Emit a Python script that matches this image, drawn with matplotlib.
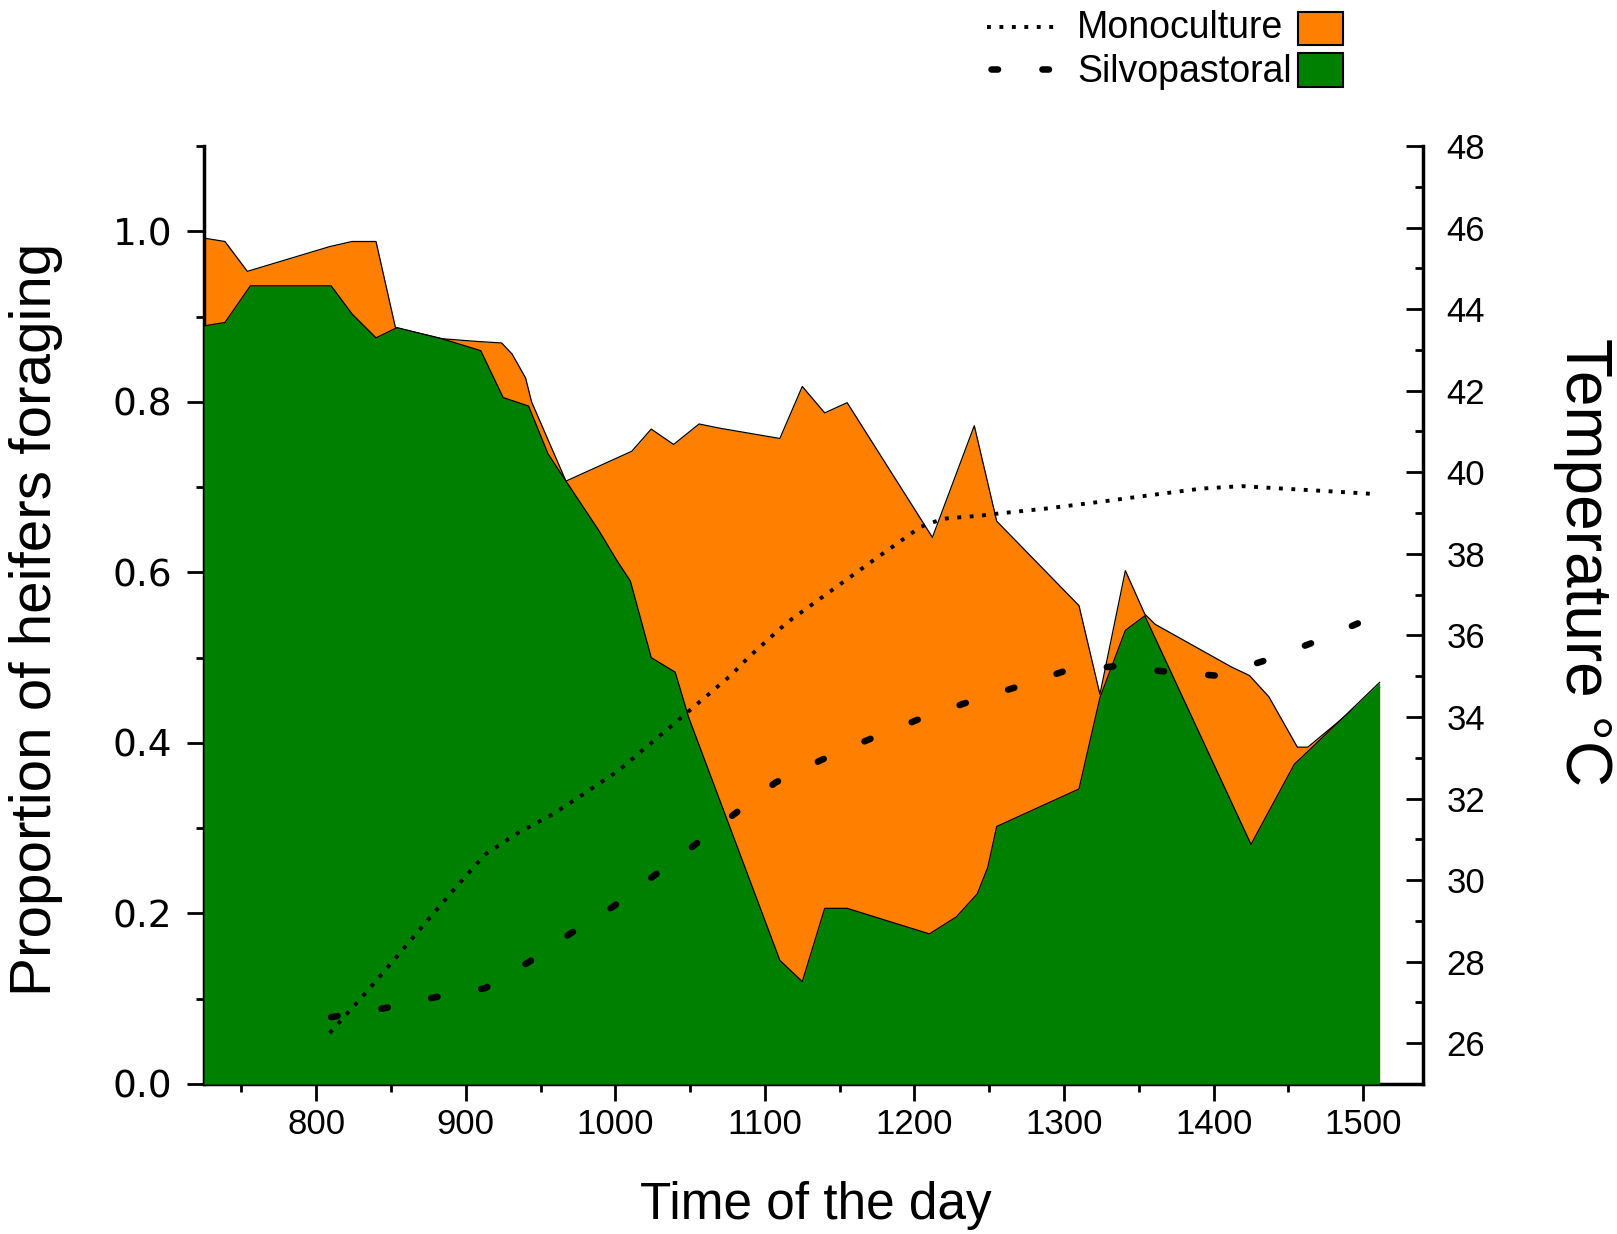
import matplotlib
matplotlib.use("Agg")
import matplotlib.pyplot as plt
from matplotlib.ticker import MultipleLocator
from matplotlib.lines import Line2D
from matplotlib.patches import Rectangle

plt.rcParams['font.family'] = ['Liberation Sans', 'DejaVu Sans']

# proportion of heifers foraging, monoculture (orange area)
mono_time = [725, 739, 754, 809, 824, 840, 853, 884, 906, 924, 931, 940, 944,
             967, 1011, 1024, 1039, 1056, 1070, 1110, 1125, 1140, 1155, 1212,
             1240, 1255, 1310, 1324, 1341, 1354, 1361, 1412, 1424, 1437, 1456,
             1463, 1511]
mono_prop = [0.992, 0.988, 0.953, 0.982, 0.988, 0.988, 0.887, 0.874, 0.871,
             0.869, 0.856, 0.828, 0.800, 0.707, 0.742, 0.768, 0.750, 0.774,
             0.769, 0.757, 0.818, 0.787, 0.799, 0.641, 0.772, 0.660, 0.561,
             0.457, 0.602, 0.551, 0.539, 0.489, 0.479, 0.454, 0.395, 0.395,
             0.465]

# proportion of heifers foraging, silvopastoral (green area)
silvo_time = [725, 739, 756, 810, 824, 840, 854, 884, 910, 925, 942, 955, 967,
              989, 1001, 1010, 1024, 1040, 1049, 1110, 1125, 1140, 1155, 1210,
              1228, 1242, 1249, 1255, 1310, 1324, 1341, 1354, 1425, 1454, 1466,
              1511]
silvo_prop = [0.889, 0.893, 0.936, 0.936, 0.903, 0.875, 0.887, 0.874, 0.860,
              0.805, 0.795, 0.739, 0.707, 0.649, 0.614, 0.590, 0.500, 0.483,
              0.430, 0.145, 0.120, 0.206, 0.206, 0.176, 0.196, 0.223, 0.254,
              0.302, 0.346, 0.453, 0.532, 0.549, 0.281, 0.375, 0.395, 0.471]

# temperature, monoculture
mono_temp_time = [809, 833, 855, 872, 895, 913, 935, 958, 980, 1002, 1043,
                  1056, 1077, 1089, 1110, 1118, 1146, 1174, 1196, 1204, 1219,
                  1245, 1254, 1288, 1323, 1356, 1392, 1419, 1446, 1479, 1506]
mono_temp = [26.25, 27.23, 28.17, 28.91, 29.89, 30.63, 31.16, 31.61, 32.14,
             32.68, 33.95, 34.36, 35.01, 35.46, 36.16, 36.40, 37.14, 37.88,
             38.45, 38.66, 38.86, 38.94, 38.98, 39.11, 39.27, 39.43, 39.60,
             39.66, 39.60, 39.53, 39.47]

# temperature, silvopastoral
silvo_temp_time = [810, 846, 880, 913, 943, 970, 999, 1026, 1053, 1080, 1107,
                   1138, 1169, 1202, 1234, 1267, 1300, 1333, 1369, 1403, 1434,
                   1467, 1500]
silvo_temp = [26.64, 26.86, 27.13, 27.35, 28.01, 28.69, 29.36, 30.11, 30.86,
              31.63, 32.39, 32.95, 33.44, 33.93, 34.34, 34.72, 35.12, 35.24,
              35.11, 35.01, 35.38, 35.83, 36.35]

ORANGE = '#ff8000'
GREEN = '#008000'
W, H = 1617, 1234

MONO_STYLE = dict(color='black', lw=2.8, linestyle=(0, (1, 2.2)))
SILVO_STYLE = dict(color='black', lw=4.7, linestyle=(0, (1.0, 6.8)),
                   dash_capstyle='round')

fig = plt.figure(figsize=(W / 100, H / 100), dpi=100)
ax = fig.add_axes([204 / W, 1 - 1084 / H, (1423 - 204) / W, (1084 - 146) / H])

ax.fill_between(mono_time, mono_prop, 0, color=ORANGE, lw=0, zorder=1)
ax.plot(mono_time, mono_prop, color='black', lw=0.9, zorder=2)
ax.fill_between(silvo_time, silvo_prop, 0, color=GREEN, lw=0, zorder=3)
ax.plot(silvo_time, silvo_prop, color='black', lw=0.9, zorder=4)

ax.set_xlim(725, 1540)
ax.set_ylim(0, 1.1)
ax.set_xticks(range(800, 1501, 100))
ax.xaxis.set_minor_locator(MultipleLocator(50))
ax.set_yticks([0, 0.2, 0.4, 0.6, 0.8, 1.0])
ax.set_yticklabels(['0.0', '0.2', '0.4', '0.6', '0.8', '1.0'],
                   fontfamily='DejaVu Sans', fontsize=27)
ax.yaxis.set_minor_locator(MultipleLocator(0.1))
ax.tick_params(axis='x', which='major', direction='out', length=12, width=2,
               labelsize=25, pad=5)
ax.tick_params(axis='x', which='minor', direction='out', length=6, width=2)
ax.tick_params(axis='y', which='major', direction='out', length=12, width=2,
               pad=11)
ax.tick_params(axis='y', which='minor', direction='out', length=6, width=2)
ax.spines['top'].set_visible(False)
ax.spines['right'].set_visible(False)
ax.spines['left'].set_linewidth(2.5)
ax.spines['bottom'].set_linewidth(2.5)

ax2 = ax.twinx()
ax2.plot(mono_temp_time, mono_temp, **MONO_STYLE)
ax2.plot(silvo_temp_time, silvo_temp, **SILVO_STYLE)
ax2.set_ylim(25, 48)
ax2.set_yticks(range(26, 49, 2))
ax2.yaxis.set_minor_locator(MultipleLocator(1))
ax2.tick_params(axis='y', which='major', direction='in', length=12, width=2,
                labelsize=25, pad=17)
ax2.tick_params(axis='y', which='minor', direction='in', length=6, width=2)
for s in ['top', 'left', 'bottom']:
    ax2.spines[s].set_visible(False)
ax2.spines['right'].set_linewidth(2.5)

# axis titles
fig.text(816 / W, 1 - 1205 / H, 'Time of the day', ha='center', va='center',
         fontsize=37)
fig.text(36 / W, 1 - 619 / H, 'Proportion of heifers foraging', rotation=90,
         ha='center', va='center', fontsize=42)
fig.text(1583 / W, 1 - 562 / H, 'Temperature °C', rotation=270,
         ha='center', va='center', fontsize=46)

# legend drawn by hand: line, label, colour box
fig.add_artist(Line2D([987 / W, 1057 / W], [1 - 27 / H, 1 - 27 / H],
                      transform=fig.transFigure, **MONO_STYLE))
fig.add_artist(Line2D([991 / W, 1050 / W], [1 - 69 / H, 1 - 69 / H],
                      transform=fig.transFigure, **SILVO_STYLE))
fig.text(1077 / W, 1 - 28 / H, 'Monoculture', ha='left', va='center',
         fontsize=27)
fig.text(1077 / W, 1 - 72 / H, 'Silvopastoral', ha='left', va='center',
         fontsize=27)
fig.add_artist(Rectangle((1298 / W, 1 - 45 / H), 45 / W, 33 / H,
                         transform=fig.transFigure, facecolor=ORANGE,
                         edgecolor='black', lw=1.5))
fig.add_artist(Rectangle((1298 / W, 1 - 87 / H), 45 / W, 34 / H,
                         transform=fig.transFigure, facecolor=GREEN,
                         edgecolor='black', lw=1.5))

fig.savefig('out.png', dpi=100)
